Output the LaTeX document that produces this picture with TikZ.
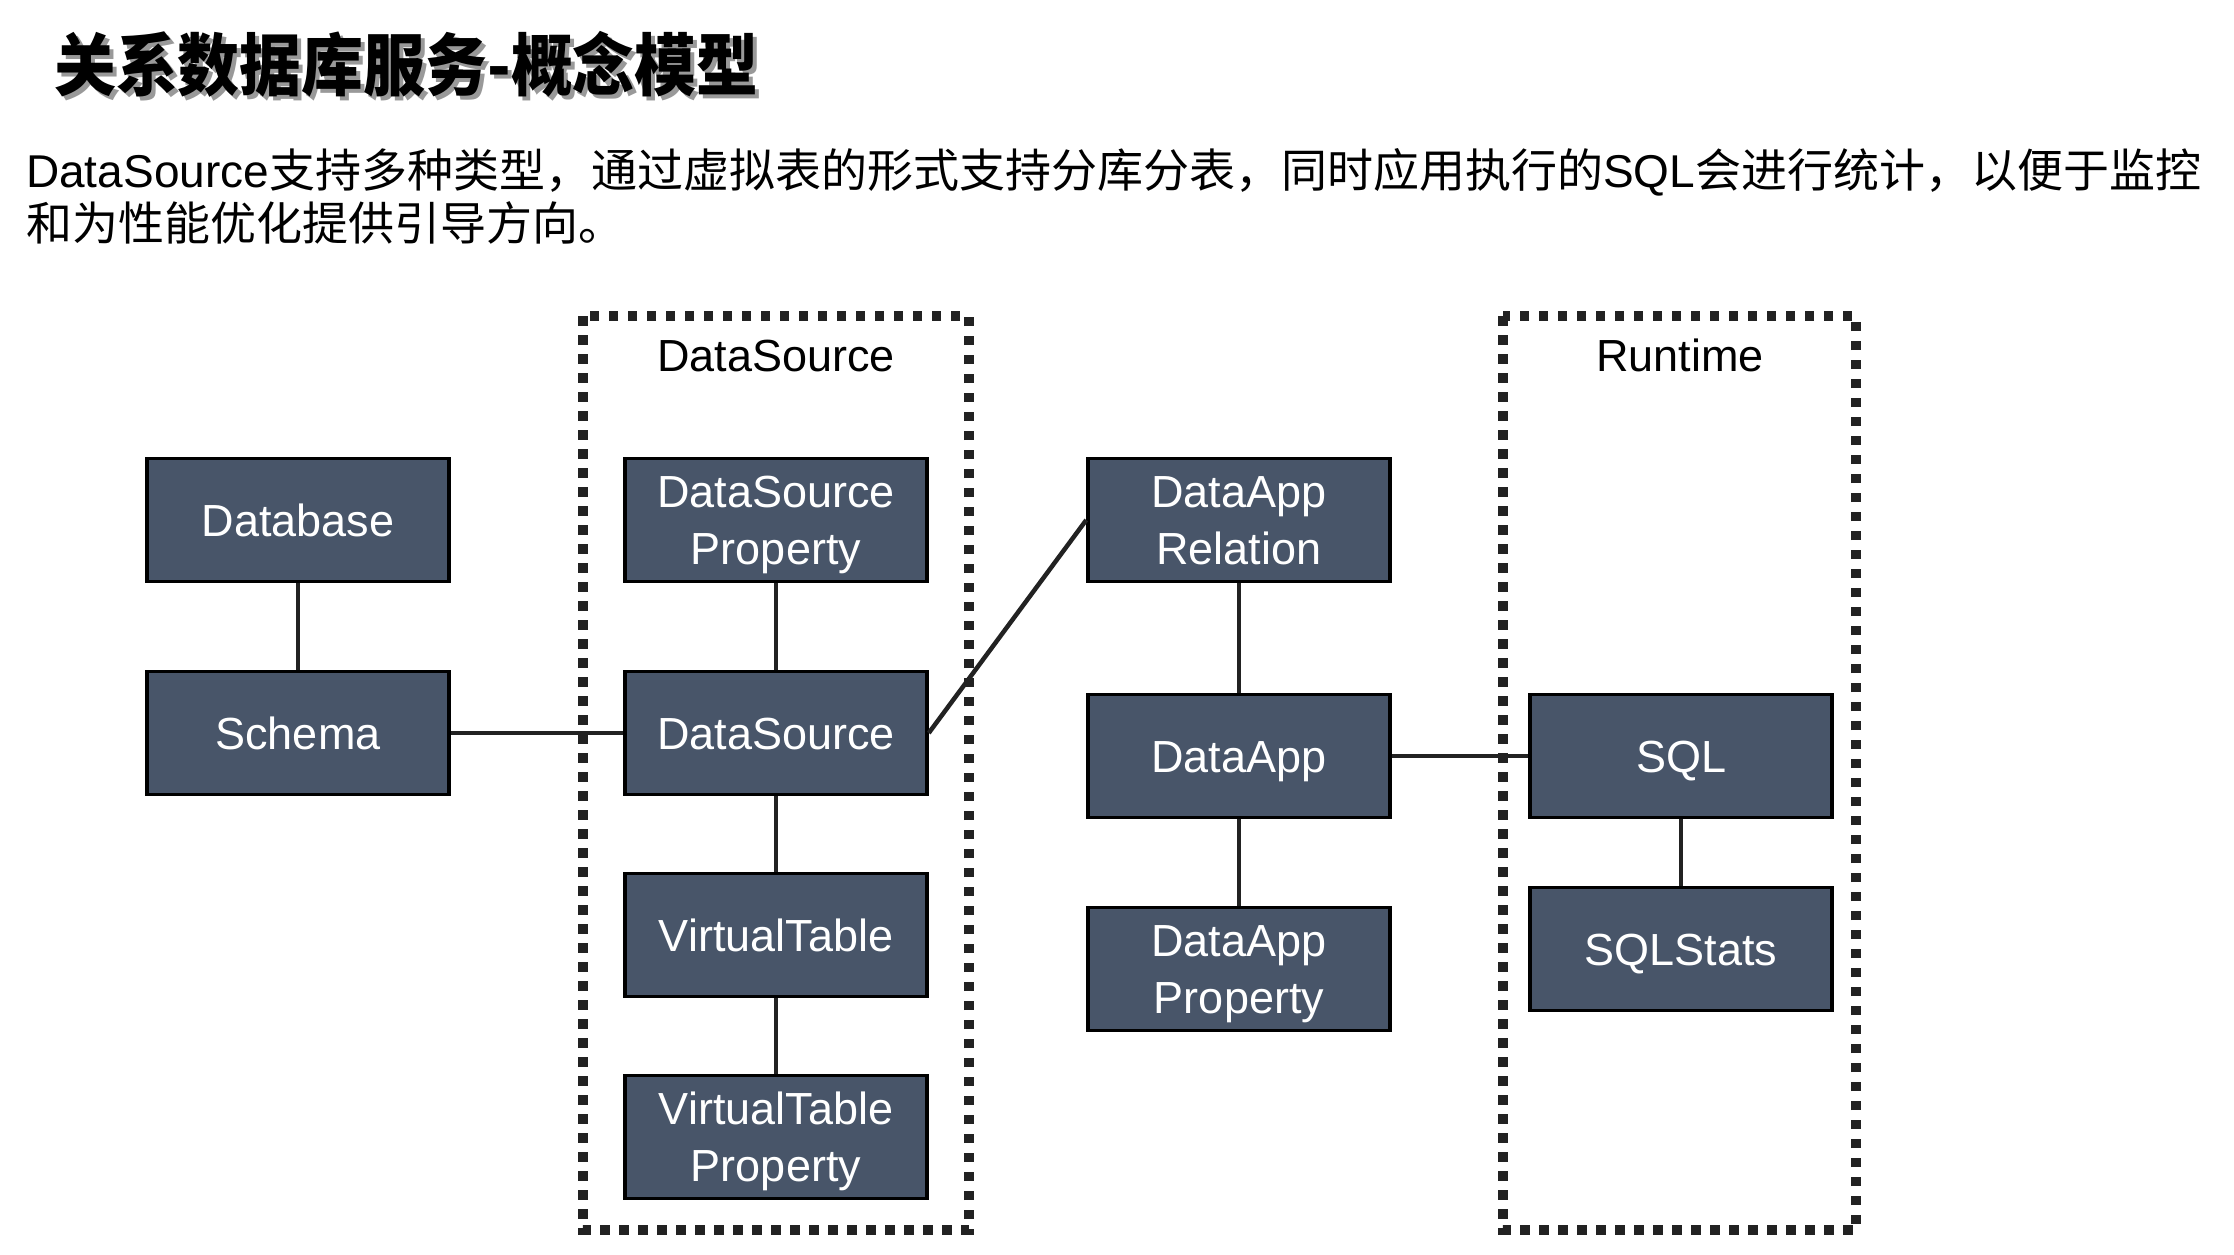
\documentclass[tikz,border=0pt]{standalone}
\usepackage{fontspec}
\setmainfont{Liberation Sans}
\newfontfamily\cjk{Noto Sans CJK SC}
\newfontfamily\cjktitle{Noto Sans CJK SC}[FakeStretch=0.91]
\definecolor{boxfill}{HTML}{485569}
\definecolor{linecol}{HTML}{222222}
\newcommand\bs{\rule[-0.234em]{0pt}{1.184em}}
\tikzset{
  box/.style={draw=black, line width=3.5pt, fill=boxfill, text=white,
    minimum width=302pt, minimum height=123pt, inner sep=0pt, align=center,
    font=\fontsize{45}{57}\selectfont},
  conn/.style={draw=linecol, line width=4.5pt},
  frame/.style={draw=linecol, line width=9.5pt, dash pattern=on 9.5pt off 9.5pt},
  label/.style={anchor=base, inner sep=0pt, font=\fontsize{45}{57}\selectfont},
  desc/.style={anchor=base west, inner sep=0pt, font=\fontsize{46}{53}\selectfont}
}
\begin{document}
\begin{tikzpicture}[x=1pt,y=-1pt]
\useasboundingbox (0,0) rectangle (2234,1254);
\fill[white] (0,0) rectangle (2234,1254);
% title with shadow
\node[anchor=base west, inner sep=0pt, text=black!40, font=\fontsize{68}{70}\selectfont\cjktitle\bfseries] (titleshadow) at (58,94) {关系数据库服务-概念模型};
\node[anchor=base west, inner sep=0pt, font=\fontsize{68}{70}\selectfont\cjktitle\bfseries] (title) at (54,90) {关系数据库服务-概念模型};
% description
\node[desc] (desc1) at (26,187) {DataSource{\cjk 支持多种类型，通过虚拟表的形式支持分库分表，同时应用执行的}SQL{\cjk 会进行统计，以便于监控}};
\node[desc] (desc2) at (26,240) {\cjk 和为性能优化提供引导方向。};
% frames
\draw[frame] (583,316) rectangle (969,1230);
\draw[frame] (1503,316) rectangle (1856,1230);
\node[label] (fl1) at (776,371) {DataSource};
\node[label] (fl2) at (1680,371) {Runtime};
% boxes
\node[box] (db) at (298,520) {\bs Database};
\node[box] (schema) at (298,733) {\bs Schema};
\node[box] (dsp) at (776,520) {\bs DataSource\\\bs Property};
\node[box] (ds) at (776,733) {\bs DataSource};
\node[box] (vt) at (776,935) {\bs VirtualTable};
\node[box] (vtp) at (776,1137) {\bs VirtualTable\\\bs Property};
\node[box] (dar) at (1239,520) {\bs DataApp\\\bs Relation};
\node[box] (da) at (1239,756) {\bs DataApp};
\node[box] (dap) at (1239,969) {\bs DataApp\\\bs Property};
\node[box] (sql) at (1681,756) {\bs SQL};
\node[box] (sqls) at (1681,949) {\bs SQLStats};
% connectors
\draw[conn] (db.south) -- (schema.north);
\draw[conn] (schema.east) -- (ds.west);
\draw[conn] (dsp.south) -- (ds.north);
\draw[conn] (ds.south) -- (vt.north);
\draw[conn] (vt.south) -- (vtp.north);
\draw[conn] (ds.east) -- (dar.west);
\draw[conn] (dar.south) -- (da.north);
\draw[conn] (da.south) -- (dap.north);
\draw[conn] (da.east) -- (sql.west);
\draw[conn] (sql.south) -- (sqls.north);
\end{tikzpicture}
\end{document}
